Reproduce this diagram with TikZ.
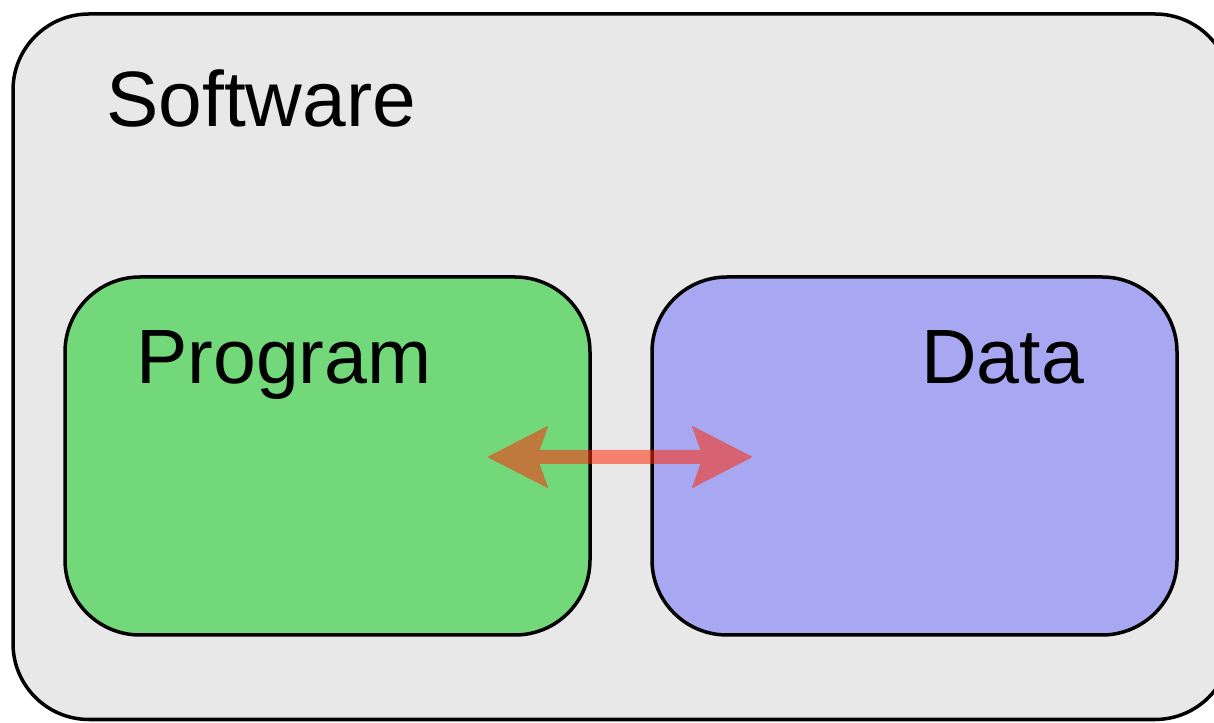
\documentclass[tikz,border=0pt]{standalone}
\usepackage{fontspec}
\setmainfont{Liberation Sans}
\usetikzlibrary{arrows.meta}
\definecolor{bggrey}{HTML}{E8E8E8}
\definecolor{proggreen}{HTML}{72D87A}
\definecolor{datablue}{HTML}{A8A8F2}
\definecolor{arrowred}{RGB}{255,43,10}
\begin{document}
\begin{tikzpicture}[x=1pt,y=1pt,
  box/.style={draw=black, line width=3.5pt, rounded corners=75pt},
  lbl/.style={anchor=base west, inner sep=0pt, font=\fontsize{77}{80}\selectfont},
  link/.style={arrowred, line width=14pt,
    {Stealth[length=60pt,width=60pt,inset=10pt]}-{Stealth[length=60pt,width=60pt,inset=10pt]}}]
\useasboundingbox (0,0) rectangle (1214,722);
\clip (0,0) rectangle (1214,722);
\fill[white] (0,0) rectangle (1214,722);
% outer software box
\draw[box, fill=bggrey, rounded corners=76pt] (13,2.5) rectangle (1231,708);
\node[lbl, font=\fontsize{78.5}{80}\selectfont] (sw) at (106,595) {Software};
% program and data boxes
\draw[box, fill=proggreen] (65,87) rectangle (590,445);
\draw[box, fill=datablue] (652,87) rectangle (1177,445);
\node[lbl] (prog) at (136,338) {Program};
\node[lbl] (data) at (921,338) {Data};
\coordinate (pl) at (487,265);
\coordinate (dr) at (753,265);
\begin{scope}[transparency group, opacity=0.55]
\draw[link] (pl) -- (dr);
\end{scope}
\end{tikzpicture}
\end{document}
